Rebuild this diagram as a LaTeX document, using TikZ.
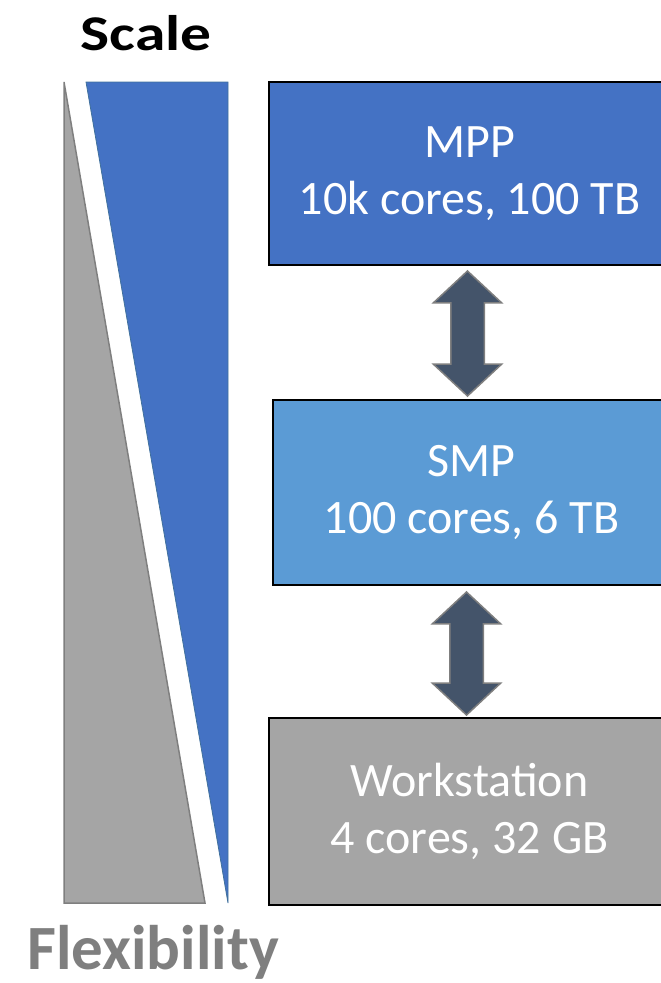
\documentclass[tikz,border=0pt]{standalone}
\usepackage{fontspec}
\setmainfont{Carlito}
\usepackage{graphicx}
\usetikzlibrary{shapes.arrows,calc}

\definecolor{mppblue}{HTML}{4472C4}
\definecolor{smpblue}{HTML}{5B9BD5}
\definecolor{wsgray}{HTML}{A5A5A5}
\definecolor{linkfill}{HTML}{44546A}
\definecolor{edgegray}{HTML}{7F7F7F}
\definecolor{edgeblue}{HTML}{41719C}

\begin{document}
\begin{tikzpicture}[x=1pt,y=-1pt,
    box/.style={draw=black, line width=2.5pt, minimum width=401pt, inner sep=0pt,
                text=white, align=center, font=\fontsize{48}{57}\selectfont},
    link/.style={double arrow, fill=linkfill, draw=edgegray, line width=1.5pt,
                 rotate=90, inner xsep=0pt, inner ysep=16pt,
                 double arrow head extend=17.5pt, double arrow tip angle=94}]
    \useasboundingbox (0,0) rectangle (661,983);

    % the two wedges on the left
    \draw[fill=wsgray, draw=edgegray, line width=1.5pt] (64,82) -- (64,903) -- (205,903) -- cycle;
    \draw[fill=mppblue, draw=edgeblue, line width=0.8pt] (86,82) -- (228,82) -- (228,903) -- cycle;
    \node[font=\fontsize{50}{60}\selectfont\bfseries] (scale) at (146,33) {\scalebox{1.23}[1]{Scale}};
    \node[font=\fontsize{63}{70}\selectfont\bfseries, text=edgegray, anchor=base] (flex) at (153,969) {Flexibility};

    % the machines
    \node[box, fill=mppblue, minimum height=183pt] (mpp) at (469.5,173.5) {MPP\\10k cores, 100 TB};
    \node[box, fill=smpblue, minimum width=397pt, minimum height=185pt] (smp) at (471.5,492.5) {SMP\\100 cores, 6 TB};
    \node[box, fill=wsgray, minimum height=187pt] (ws) at (469.5,811.5) {Workstation\\4 cores, 32 GB};

    \node[link, minimum height=125pt] (up) at ($(mpp.south)!0.5!(smp.north)+(-3,1)$) {};
    \node[link, minimum height=123pt] (down) at ($(smp.south)!0.5!(ws.north)+(-4,2)$) {};
\end{tikzpicture}
\end{document}
